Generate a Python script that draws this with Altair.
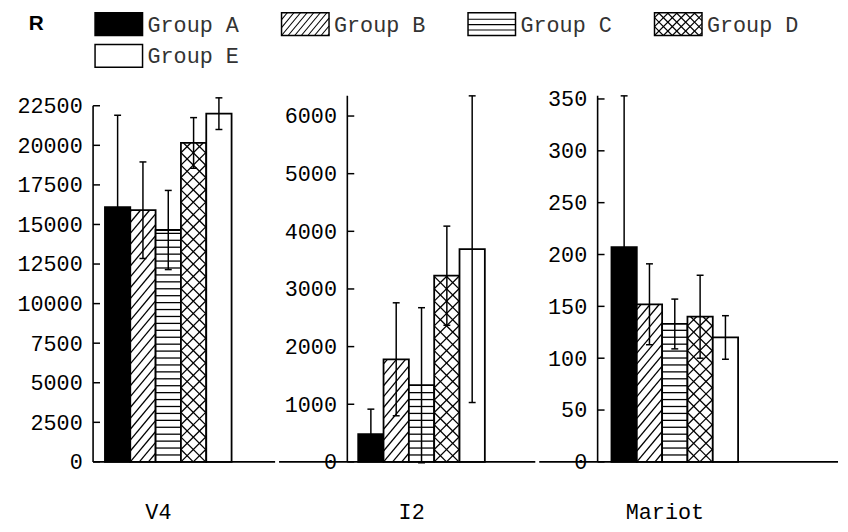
import math
import altair as alt
import pandas as pd

# ---------------- data ----------------
groups = ["Group A", "Group B", "Group C", "Group D", "Group E"]
regions = ["V4", "I2", "Mariot"]
v4_mean = [16100, 15900, 14650, 20150, 22000]
v4_err = [5800, 3050, 2500, 1600, 1000]
i2_mean = [480, 1780, 1330, 3230, 3690]
i2_err = [435, 980, 1345, 860, 2660]
mariot_mean = [207, 152, 133, 140, 120]
mariot_err = [146, 39, 24, 40, 21]
v4_ticks = [0, 2500, 5000, 7500, 10000, 12500, 15000, 17500, 20000, 22500]
i2_ticks = [0, 1000, 2000, 3000, 4000, 5000, 6000]
mariot_ticks = [0, 50, 100, 150, 200, 250, 300, 350]

# ---------------- styling / layout ----------------
fills = ["#000000", "#ffffff", "#ffffff", "#ffffff", "#ffffff"]
patterns = ["none", "diag", "horiz", "cross", "none"]
FONT = "Liberation Mono"
FS = 22
H = 370          # plot height (px)
BW = 25.6        # bar width (px)
CAP = 3.5        # half width of error-bar caps (px)

layout = {
    "V4": dict(ymax=23125, top=22500, width=184, extent=85, lead=12),
    "I2": dict(ymax=6350, top=6350, width=190, extent=70, lead=11),
    "Mariot": dict(ymax=353, top=353, width=243, extent=60, lead=14),
}
bar_pattern = {"diag": (1.2, 11.0), "horiz": (0, 7.0), "cross": (1.0, 12.5)}
swatch_pattern = {"diag": (1.2, 8.0), "horiz": (0, 5.5), "cross": (1.0, 9.0)}


def hatch_segments(kind, w, h, slope, step):
    """Line segments (local px, y up) filling a w x h rectangle."""
    segs = []
    if kind == "horiz":
        y = step
        while y < h - 1.5:
            segs.append((0.0, y, w, y))
            y += step
    if kind in ("diag", "cross"):
        m = slope
        k0 = math.floor(-m * w / step)
        k1 = math.ceil(h / step)
        for k in range(k0, k1 + 1):
            c = k * step
            x0 = max(0.0, -c / m)
            x1 = min(w, (h - c) / m)
            if x1 - x0 > 0.6:
                segs.append((x0, m * x0 + c, x1, m * x1 + c))
    if kind == "cross":
        m = slope
        k1 = math.ceil((h + m * w) / step)
        for k in range(0, k1 + 1):
            c = k * step
            x0 = max(0.0, (c - h) / m)
            x1 = min(w, c / m)
            if x1 - x0 > 0.6:
                segs.append((x0, c - m * x0, x1, c - m * x1))
    return segs


def panel(name, means, errs, ticks, first):
    L = layout[name]
    ymax, W, E = L["ymax"], L["width"], L["extent"]
    lead = L["lead"] / BW
    ky = ymax / H
    xs = alt.Scale(domain=[-lead, W / BW - lead], nice=False, zero=False)
    ys = alt.Scale(domain=[0, ymax], nice=False, zero=False)
    yaxis = alt.Axis(
        values=ticks, format="d", title=None, domain=False, ticks=False,
        tickSize=0, labelPadding=11, grid=False, labelFont=FONT,
        labelFontSize=FS, labelColor="black", minExtent=E, maxExtent=E,
        labelOverlap=False, labelFlush=False, labelBaseline="middle")
    idx = list(range(len(groups)))

    bars = pd.DataFrame({
        "group": groups,
        "x": idx,
        "x2": [i + 1 for i in idx],
        "mean": means,
        "base": [0] * len(groups),
    })
    err = pd.DataFrame({
        "xc": [i + 0.5 for i in idx],
        "lo": [m - e for m, e in zip(means, errs)],
        "hi": [m + e for m, e in zip(means, errs)],
    })
    caps_rows = []
    for i in idx:
        for yv in (means[i] - errs[i], means[i] + errs[i]):
            caps_rows.append({"cl": i + 0.5 - CAP / BW, "cr": i + 0.5 + CAP / BW, "y": yv})
    caps = pd.DataFrame(caps_rows)

    hrows = []
    for i in idx:
        kind = patterns[i]
        if kind == "none":
            continue
        slope, step = bar_pattern[kind]
        hpx = means[i] / ky
        for (x0, y0, x1, y1) in hatch_segments(kind, BW, hpx, slope, step):
            hrows.append({"x": i + x0 / BW, "x2": i + x1 / BW, "y": y0 * ky, "y2": y1 * ky})
    hatch = pd.DataFrame(hrows)

    bar_layer = alt.Chart(bars).mark_rect(stroke="black", strokeWidth=1.8).encode(
        x=alt.X("x:Q", scale=xs, axis=None),
        x2="x2:Q",
        y=alt.Y("mean:Q", scale=ys, axis=yaxis),
        y2="base:Q",
        fill=alt.Fill("group:N", scale=alt.Scale(domain=groups, range=fills), legend=None),
    )
    hatch_layer = alt.Chart(hatch).mark_rule(color="black", strokeWidth=1.3).encode(
        x=alt.X("x:Q", scale=xs, axis=None), x2="x2:Q",
        y=alt.Y("y:Q", scale=ys, axis=yaxis), y2="y2:Q",
    )
    err_layer = alt.Chart(err).mark_rule(color="black", strokeWidth=1.5).encode(
        x=alt.X("xc:Q", scale=xs, axis=None),
        y=alt.Y("lo:Q", scale=ys, axis=yaxis), y2="hi:Q",
    )
    cap_layer = alt.Chart(caps).mark_rule(color="black", strokeWidth=1.5).encode(
        x=alt.X("cl:Q", scale=xs, axis=None), x2="cr:Q",
        y=alt.Y("y:Q", scale=ys, axis=yaxis),
    )
    axis_line = alt.Chart(pd.DataFrame({"y": [0], "y2": [L["top"]]})).mark_rule(
        color="black", strokeWidth=1.6).encode(
        x=alt.value(0), y=alt.Y("y:Q", scale=ys, axis=yaxis), y2="y2:Q",
    )
    tick_layer = alt.Chart(pd.DataFrame({"t": ticks})).mark_rule(
        color="black", strokeWidth=1.5).encode(
        x=alt.value(0), x2=alt.value(7), y=alt.Y("t:Q", scale=ys, axis=yaxis),
    )
    baseline = alt.Chart(pd.DataFrame({"b": [0]})).mark_rule(
        color="black", strokeWidth=1.6).encode(
        x=alt.value(0 if first else -E + 1), x2=alt.value(W), y=alt.value(H),
    )
    label = alt.Chart(pd.DataFrame({"label": [name], "x": [2.5 - 10 / BW]})).mark_text(
        font=FONT, fontSize=FS, color="black", align="center", baseline="middle").encode(
        x=alt.X("x:Q", scale=xs, axis=None), y=alt.value(H + 51), text="label:N",
    )
    return alt.layer(bar_layer, hatch_layer, err_layer, cap_layer, axis_line,
                     tick_layer, baseline, label).properties(width=W, height=H)


# ---------------- legend ----------------
# legend coordinates are measured from the chart's left edge; the legend view
# itself starts where the first panel's plot area starts (x = 85).
LEFT = layout["V4"]["extent"]
LW, LH = 832, 56
SW, SH = 48, 23
lx = alt.Scale(domain=[LEFT, LW], nice=False, zero=False)
ly = alt.Scale(domain=[0, LH], nice=False, zero=False, reverse=True)
cols = [0, 1, 2, 3, 0]
rows = [0, 0, 0, 0, 1]
sw_left = [87 + c * 188.5 for c in cols]
sw_top = [1 + r * 32 for r in rows]

swatches = pd.DataFrame({
    "group": groups,
    "x": sw_left,
    "x2": [x + SW for x in sw_left],
    "y": sw_top,
    "y2": [t + SH for t in sw_top],
    "tx": [x + SW + 5 for x in sw_left],
    "ty": [t + SH / 2 + 0.5 for t in sw_top],
})
lrows = []
for i, g in enumerate(groups):
    kind = patterns[i]
    if kind == "none":
        continue
    slope, step = swatch_pattern[kind]
    bottom = sw_top[i] + SH
    for (x0, y0, x1, y1) in hatch_segments(kind, SW, SH, slope, step):
        lrows.append({"x": sw_left[i] + x0, "x2": sw_left[i] + x1,
                      "y": bottom - y0, "y2": bottom - y1})
lhatch = pd.DataFrame(lrows)

leg_rect = alt.Chart(swatches).mark_rect(stroke="black", strokeWidth=1.5).encode(
    x=alt.X("x:Q", scale=lx, axis=None), x2="x2:Q",
    y=alt.Y("y:Q", scale=ly, axis=None), y2="y2:Q",
    fill=alt.Fill("group:N", scale=alt.Scale(domain=groups, range=fills), legend=None),
)
leg_hatch = alt.Chart(lhatch).mark_rule(color="black", strokeWidth=1.1).encode(
    x=alt.X("x:Q", scale=lx, axis=None), x2="x2:Q",
    y=alt.Y("y:Q", scale=ly, axis=None), y2="y2:Q",
)
leg_text = alt.Chart(swatches).mark_text(
    font=FONT, fontSize=FS, color="#333333", align="left", baseline="middle").encode(
    x=alt.X("tx:Q", scale=lx, axis=None), y=alt.Y("ty:Q", scale=ly, axis=None),
    text="group:N",
)
panel_tag = alt.Chart(pd.DataFrame({"t": ["R"], "x": [20], "y": [12]})).mark_text(
    font="Liberation Sans", fontSize=21, fontWeight="bold", color="black",
    align="left", baseline="middle").encode(
    x=alt.X("x:Q", scale=lx, axis=None), y=alt.Y("y:Q", scale=ly, axis=None), text="t:N",
)
legend = alt.layer(leg_rect, leg_hatch, leg_text, panel_tag).properties(
    width=LW - LEFT, height=LH)

row = alt.hconcat(
    panel("V4", v4_mean, v4_err, v4_ticks, True),
    panel("I2", i2_mean, i2_err, i2_ticks, False),
    panel("Mariot", mariot_mean, mariot_err, mariot_ticks, False),
    spacing=0,
)

chart = alt.vconcat(legend, row, spacing=18, padding=0, background="white").configure_view(
    stroke="transparent"
)

chart.save("out.html", embed_options={"renderer": "svg", "actions": False})
